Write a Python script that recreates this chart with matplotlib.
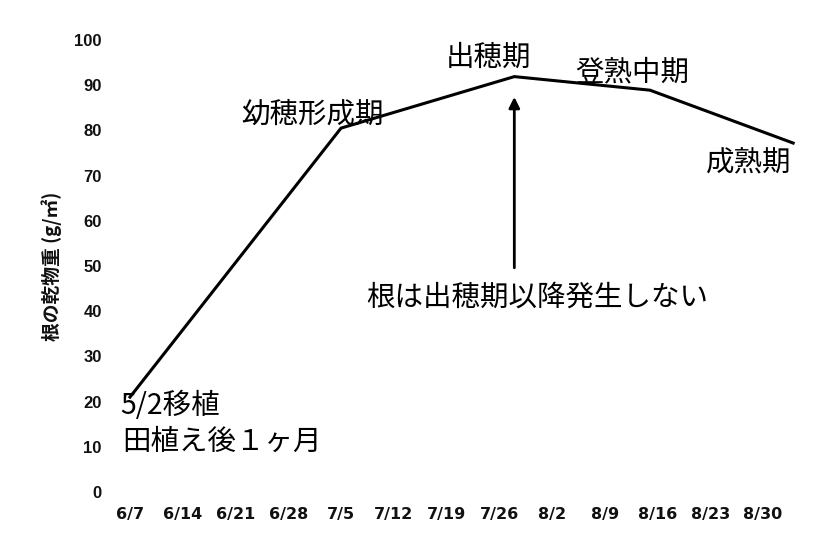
import matplotlib
matplotlib.use("Agg")
import matplotlib.pyplot as plt

plt.rcParams['font.family'] = ['Noto Sans CJK JP', 'DejaVu Sans']

# ---- data ----
tick_labels = ["6/7", "6/14", "6/21", "6/28", "7/5", "7/12", "7/19",
               "7/26", "8/2", "8/9", "8/16", "8/23", "8/30"]
tick_days = [0, 7, 14, 21, 28, 35, 42, 49, 56, 63, 70, 77, 84]   # days since 6/7
y_ticks = [0, 10, 20, 30, 40, 50, 60, 70, 80, 90, 100]

days = [0, 28, 51, 69, 88]                 # days since 6/7
root_dry_weight = [21.0, 80.5, 91.9, 88.9, 77.2]   # g/m2

stage_labels = ["幼穂形成期", "出穂期", "登熟中期", "成熟期"]
note_text = "根は出穂期以降発生しない"
start_lines = ["5/2移植", "田植え後１ヶ月"]
ylabel = "根の乾物重 (g/㎡)"

# ---- figure ----
fig = plt.figure(figsize=(8.4, 5.6), dpi=100)
ppd = 52.75 / 7.0
ppu = 4.52
x0, x1 = -3.0, 92.0
y0, y1 = -2.0, 102.0
left_px = 130 + x0 * ppd
right_px = 130 + x1 * ppd
bottom_px = 492 - y0 * ppu
top_px = 492 - y1 * ppu
ax = fig.add_axes([left_px / 840, 1 - bottom_px / 560,
                   (right_px - left_px) / 840, (bottom_px - top_px) / 560])
ax.set_xlim(x0, x1)
ax.set_ylim(y0, y1)
for s in ax.spines.values():
    s.set_visible(False)

ax.plot(days, root_dry_weight, color='black', lw=2.2, solid_joinstyle='miter')

ax.set_xticks(tick_days)
ax.set_xticklabels(tick_labels, family='DejaVu Sans', fontweight='bold', fontsize=11.5)
ax.set_yticks(y_ticks)
ax.set_yticklabels([str(v) for v in y_ticks], family='Liberation Sans',
                   fontweight='bold', fontsize=12)
ax.tick_params(axis='both', length=0, colors='#111111')
ax.tick_params(axis='x', pad=4)
ax.tick_params(axis='y', pad=4)

fig.text(52 / 840, 1 - 266 / 560, ylabel, rotation=90, ha='center', va='center',
         fontsize=13.5, fontweight='bold', color='#111111')

fs = 20.5
ax.text(24.15, 83.6, stage_labels[0], ha='center', va='center', fontsize=fs)
ax.text(47.6, 96.0, stage_labels[1], ha='center', va='center', fontsize=fs)
ax.text(66.6, 92.9, stage_labels[2], ha='center', va='center', fontsize=fs)
ax.text(82.1, 72.6, stage_labels[3], ha='center', va='center', fontsize=fs)
ax.text(54.0, 43.1, note_text, ha='center', va='center', fontsize=fs)
ax.text(-1.33, 19.0, start_lines[0], ha='left', va='center', fontsize=fs)
ax.text(-1.06, 11.1, start_lines[1], ha='left', va='center', fontsize=fs)

ax.annotate("", xy=(days[2], 87.4), xytext=(days[2], 49.6),
            arrowprops=dict(arrowstyle='-|>', color='black', lw=2,
                            mutation_scale=16, shrinkA=0, shrinkB=0))

fig.savefig("out.png", dpi=100, facecolor='white')
